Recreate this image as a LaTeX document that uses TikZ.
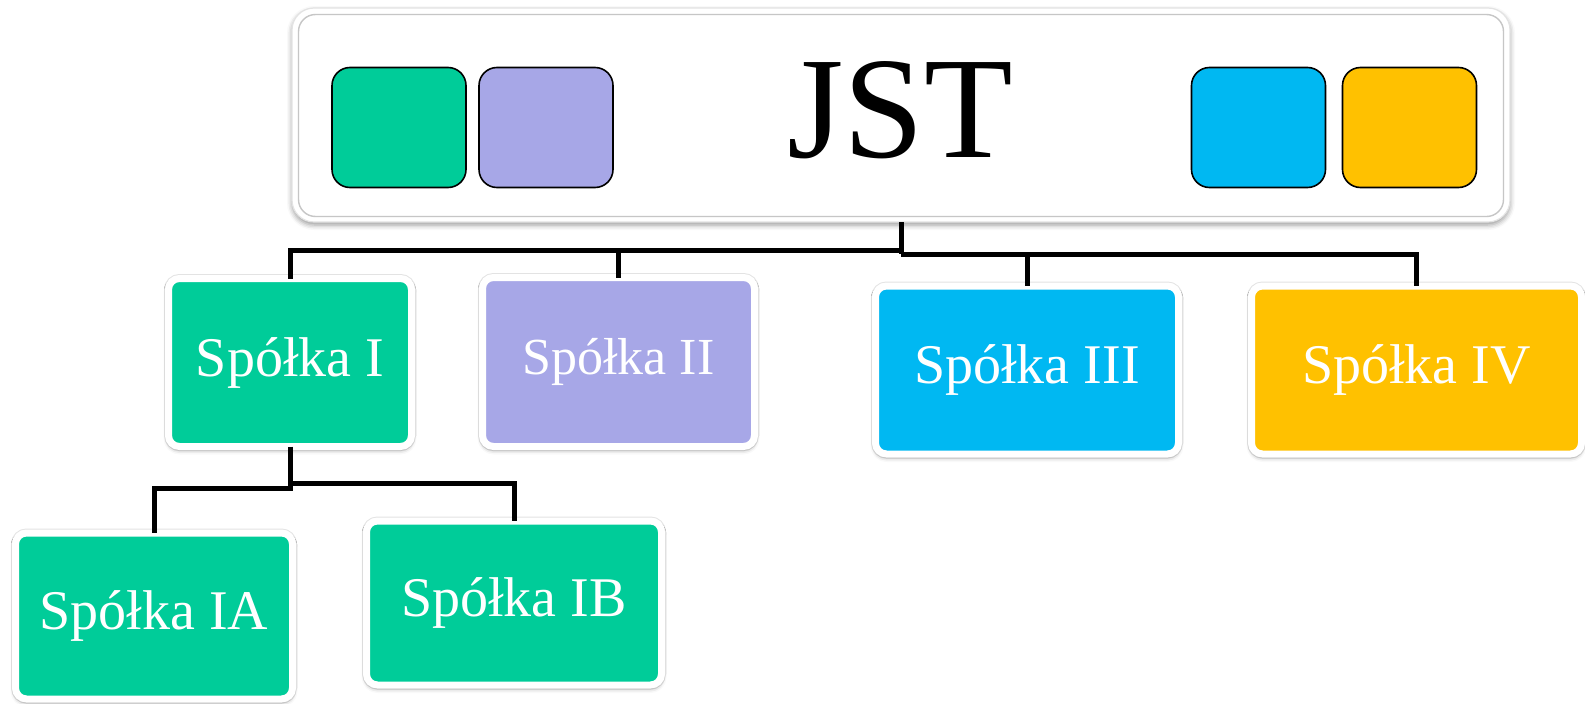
\documentclass[tikz,border=0pt]{standalone}
\usepackage{fontspec}
\setmainfont{Liberation Serif}
\usetikzlibrary{shadows.blur}

\definecolor{cgreen}{RGB}{0,204,153}
\definecolor{cviolet}{RGB}{167,167,231}
\definecolor{cblue}{RGB}{0,184,242}
\definecolor{cyellow}{RGB}{255,193,0}

\tikzset{
  conn/.style={draw=black, line width=5pt, line join=miter},
  unit/.style={draw=white, line width=7pt, rounded corners=11pt, outer sep=0pt,
    text=white, font=\fontsize{56}{60}\selectfont, inner sep=0pt,
    preaction={draw=gray!22, line width=9pt},
    blur shadow={shadow xshift=0pt, shadow yshift=-3pt, shadow blur radius=5pt, shadow opacity=40}},
  chip/.style={draw=black, line width=1.6pt, rounded corners=18pt,
    minimum width=134pt, minimum height=120pt, outer sep=0pt},
}

\begin{document}
\begin{tikzpicture}[x=1pt, y=-1pt]
\useasboundingbox (0,0) rectangle (1585,704);

% holding company frame
\node[fill=white, draw=gray!22, line width=1.2pt, rounded corners=22pt,
      minimum width=1218pt, minimum height=214pt, outer sep=0pt,
      blur shadow={shadow xshift=0pt, shadow yshift=-3pt, shadow blur radius=5pt, shadow opacity=40}]
      (jst) at (901,115) {};
\node[draw=gray!45, line width=1.4pt, rounded corners=17pt,
      minimum width=1205pt, minimum height=202pt] (jstin) at (901,115.5) {};
\node[font=\fontsize{145}{150}\selectfont, inner sep=0pt] (jsttxt) at (900,110) {JST};

% colour chips
\node[chip, fill=cgreen]  (gchip) at (399,127.5) {};
\node[chip, fill=cviolet] (vchip) at (546,127.5) {};
\node[chip, fill=cblue]   (bchip) at (1258.5,127.5) {};
\node[chip, fill=cyellow] (ychip) at (1409.5,127.5) {};

% subsidiaries
\node[unit, fill=cgreen,  minimum width=243pt, minimum height=168pt] (s1) at (290,362.5) {Spółka I};
\node[unit, fill=cviolet, minimum width=272pt, minimum height=169pt,
      font=\fontsize{52}{56}\selectfont] (s2) at (618.5,362) {Spółka II};
\node[unit, fill=cblue,   minimum width=303pt, minimum height=168pt] (s3) at (1027,370) {Spółka III};
\node[unit, fill=cyellow, minimum width=330pt, minimum height=168pt] (s4) at (1416.5,370) {Spółka IV};
\node[unit, fill=cgreen,  minimum width=277pt, minimum height=166pt] (ia) at (154,616) {Spółka IA};
\node[unit, fill=cgreen,  minimum width=295pt, minimum height=164pt] (ib) at (514,603) {Spółka IB};

% connector buses
\coordinate (busL) at (901,250);
\coordinate (busR) at (901,254);
\coordinate (subL) at (290,488);
\coordinate (subR) at (290,483);

\draw[conn] (jst.south) -- (busR);
\draw[conn] (busL) -| (s1.north);
\draw[conn] (busL -| s2.north) -- (s2.north);
\draw[conn] (busR) -| (s4.north);
\draw[conn] (busR -| s3.north) -- (s3.north);

\draw[conn] (s1.south) -- (subL) -| (ia.north);
\draw[conn] (subR) -| (ib.north);
\end{tikzpicture}
\end{document}
